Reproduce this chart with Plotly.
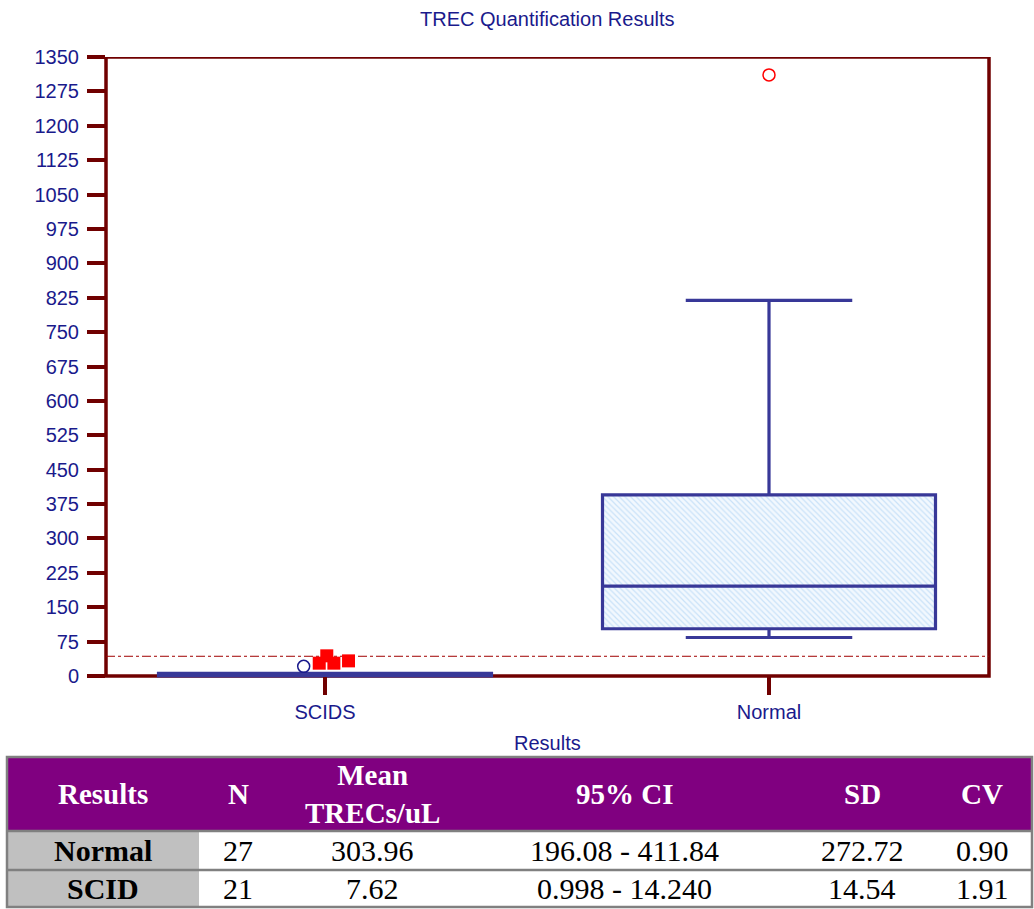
import plotly.graph_objects as go

# ---------------- data ----------------
categories = ["SCIDS", "Normal"]
q1 = [0, 103]
median = [1, 196]
q3 = [6, 395]
lower_fence = [0, 84]
upper_fence = [6, 819]

normal_outliers = [1311]
scids_outliers = [21]
scids_outlier_jitter = [-0.048]
scids_extremes = [28, 44, 28, 33]
scids_extreme_jitter = [-0.013, 0.004, 0.020, 0.053]
cutoff = 43

y_ticks = list(range(0, 1351, 75))

table_header = ["Results", "N", "Mean<br>TRECs/uL", "95% CI", "SD", "CV"]
table_rows = [
    ["Normal", "27", "303.96", "196.08 - 411.84", "272.72", "0.90"],
    ["SCID", "21", "7.62", "0.998 - 14.240", "14.54", "1.91"],
]

# ---------------- layout geometry (pixels) ----------------
W, H = 1034, 909
ML, MR, MT, MB = 106, 45, 57, 228
PW, PH = W - ML - MR, H - MT - MB
Y0_PX = 676          # pixel row of value 0
Y_TOP = 1350
scale = (Y0_PX - MT) / Y_TOP
y_bottom = -(H - MB - Y0_PX) / scale
cat_px = [325, 769]
px_per_cat = cat_px[1] - cat_px[0]
x_range = [(ML - cat_px[0]) / px_per_cat, (W - MR - cat_px[0]) / px_per_cat]


def px2x(px):
    return (px - ML) / PW


def py2y(py):
    return (H - MB - py) / PH


AXIS = "#700000"
BLUE = "#383898"
NAVY = "#1a1a8c"
FONT = "Arial, Liberation Sans, sans-serif"
SERIF = "Times New Roman, Liberation Serif, serif"

xpos = list(range(len(categories)))

fig = go.Figure()

# hatched fill for the Normal box
fig.add_trace(go.Bar(
    x=[xpos[1]], y=[q3[1] - q1[1]], base=[q1[1]], width=0.75,
    marker=dict(color="#f2f8fe", line_width=0,
                pattern=dict(shape="\\", fgcolor="#9fcbf2", size=4, solidity=0.3)),
    hoverinfo="skip", showlegend=False,
))

fig.add_trace(go.Box(
    x=xpos, q1=q1, median=median, q3=q3,
    lowerfence=lower_fence, upperfence=upper_fence,
    width=0.75, whiskerwidth=0.5, boxpoints=False,
    fillcolor="rgba(0,0,0,0)", line=dict(color=BLUE, width=3.2),
    showlegend=False,
))

fig.add_trace(go.Scatter(
    x=[xpos[1]] * len(normal_outliers), y=normal_outliers, mode="markers",
    marker=dict(symbol="circle-open", size=12, color="red", line=dict(width=1.5, color="red")),
    showlegend=False,
))
fig.add_trace(go.Scatter(
    x=[xpos[0] + j for j in scids_outlier_jitter], y=scids_outliers, mode="markers",
    marker=dict(symbol="circle-open", size=12, color=NAVY, line=dict(width=1.5, color=NAVY)),
    showlegend=False, cliponaxis=False,
))
fig.add_trace(go.Scatter(
    x=[xpos[0] + j for j in scids_extreme_jitter], y=scids_extremes, mode="markers",
    marker=dict(symbol="square", size=13, color="red", line=dict(width=0)),
    showlegend=False, cliponaxis=False,
))

shapes = [
    # plot frame
    dict(type="rect", xref="paper", yref="y", x0=0, x1=1, y0=0, y1=Y_TOP,
         line=dict(color=AXIS, width=3.5), layer="below"),
    # cut-off line
    dict(type="line", xref="paper", yref="y", x0=0, x1=1, y0=cutoff, y1=cutoff,
         line=dict(color="#a00000", width=1, dash="dashdot"), layer="below"),
]

# ---------------- table ----------------
T_LEFT, T_RIGHT = 7, 1032
T_TOP, T_HEAD, T_ROW1, T_BOT = 757, 831, 870, 907
COL1_RIGHT = 199
col_centers = [103, 238, 372, 624, 862, 982]
GRID = "#808080"
TFONT = 30

shapes += [
    dict(type="rect", xref="paper", yref="paper", x0=px2x(T_LEFT), x1=px2x(T_RIGHT),
         y0=py2y(T_HEAD), y1=py2y(T_TOP), fillcolor="#800080", line_width=0, layer="above"),
    dict(type="rect", xref="paper", yref="paper", x0=px2x(T_LEFT), x1=px2x(COL1_RIGHT),
         y0=py2y(T_BOT), y1=py2y(T_HEAD), fillcolor="#c0c0c0", line_width=0, layer="above"),
    dict(type="line", xref="paper", yref="paper", x0=px2x(T_LEFT), x1=px2x(T_RIGHT),
         y0=py2y(T_HEAD), y1=py2y(T_HEAD), line=dict(color=GRID, width=2.5), layer="above"),
    dict(type="line", xref="paper", yref="paper", x0=px2x(T_LEFT), x1=px2x(T_RIGHT),
         y0=py2y(T_ROW1), y1=py2y(T_ROW1), line=dict(color=GRID, width=2.5), layer="above"),
    dict(type="rect", xref="paper", yref="paper", x0=px2x(T_LEFT), x1=px2x(T_RIGHT),
         y0=py2y(T_BOT), y1=py2y(T_TOP), line=dict(color=GRID, width=2.5), layer="above"),
]

annotations = [
    dict(text="TREC Quantification Results", xref="paper", yref="paper",
         x=px2x(547), y=py2y(19), xanchor="center", yanchor="middle", showarrow=False,
         font=dict(family=FONT, size=20, color=NAVY)),
    dict(text="Results", xref="paper", yref="paper",
         x=px2x(547), y=py2y(743), xanchor="center", yanchor="middle", showarrow=False,
         font=dict(family=FONT, size=20, color=NAVY)),
]

for c, txt in zip(col_centers, table_header):
    annotations.append(dict(
        text="<b>" + txt.replace("<br>", "</b><br><b>") + "</b>", xref="paper", yref="paper",
        x=px2x(c), y=py2y((T_TOP + T_HEAD) / 2), xanchor="center", yanchor="middle",
        showarrow=False, font=dict(family=SERIF, size=TFONT - 1, color="white")))

row_mids = [(T_HEAD + T_ROW1) / 2, (T_ROW1 + T_BOT) / 2]
for r, row in enumerate(table_rows):
    for i, (c, txt) in enumerate(zip(col_centers, row)):
        annotations.append(dict(
            text=("<b>%s</b>" % txt) if i == 0 else txt, xref="paper", yref="paper",
            x=px2x(c), y=py2y(row_mids[r]), xanchor="center", yanchor="middle",
            showarrow=False, font=dict(family=SERIF, size=TFONT, color="black")))

fig.update_layout(
    width=W, height=H,
    margin=dict(l=ML, r=MR, t=MT, b=MB, pad=0),
    plot_bgcolor="white", paper_bgcolor="white",
    shapes=shapes, annotations=annotations,
    showlegend=False, bargap=0,
    xaxis=dict(range=x_range, tickvals=xpos, ticktext=categories,
               showgrid=False, zeroline=False, showline=False,
               anchor="free", position=(0 - y_bottom) / (Y_TOP - y_bottom),
               ticks="outside", ticklen=18, tickwidth=3.5, tickcolor=AXIS,
               tickfont=dict(family=FONT, size=20, color=NAVY)),
    yaxis=dict(range=[y_bottom, Y_TOP], tickvals=y_ticks,
               showgrid=False, zeroline=False, showline=False,
               ticks="outside", ticklen=18, tickwidth=3.5, tickcolor=AXIS,
               ticklabelstandoff=4,
               tickfont=dict(family=FONT, size=20, color=NAVY)),
)

fig.write_html("out.html", config={"displayModeBar": False})
